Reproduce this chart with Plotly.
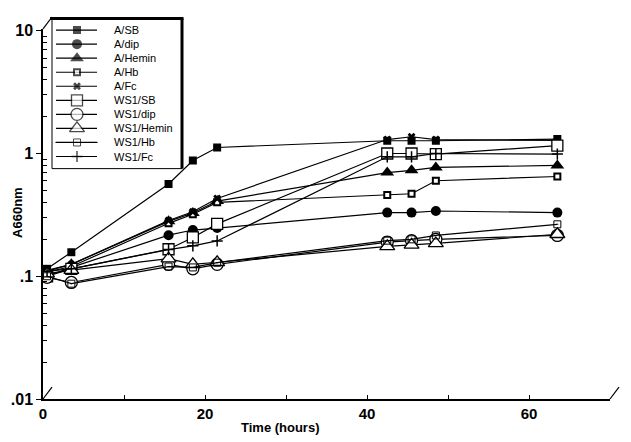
import plotly.graph_objects as go

# ---------------- data ----------------
hours = [0.5, 3.5, 15.5, 18.5, 21.5, 42.5, 45.5, 48.5, 63.5]
series_names = ["A/SB", "A/dip", "A/Hemin", "A/Hb", "A/Fc",
                "WS1/SB", "WS1/dip", "WS1/Hemin", "WS1/Hb", "WS1/Fc"]
a_sb      = [0.115, 0.157, 0.565, 0.877, 1.12, 1.27, 1.27, 1.27, 1.31]
a_dip     = [0.100, 0.118, 0.216, 0.238, 0.247, 0.33, 0.33, 0.34, 0.33]
a_hemin   = [0.110, 0.125, 0.280, 0.328, 0.410, 0.70, 0.73, 0.77, 0.80]
a_hb      = [0.108, 0.120, 0.270, 0.320, 0.400, 0.46, 0.47, 0.60, 0.65]
a_fc      = [0.112, 0.125, 0.285, 0.335, 0.430, 1.30, 1.37, 1.30, 1.28]
ws1_sb    = [0.100, 0.115, 0.166, 0.207, 0.267, 1.00, 1.00, 0.99, 1.16]
ws1_dip   = [0.098, 0.089, 0.125, 0.115, 0.125, 0.19, 0.195, 0.20, 0.215]
ws1_hemin = [0.105, 0.112, 0.139, 0.125, 0.130, 0.175, 0.18, 0.185, 0.22]
ws1_hb    = [0.100, 0.087, 0.120, 0.118, 0.129, 0.195, 0.20, 0.215, 0.265]
ws1_fc    = [0.110, 0.115, 0.165, 0.177, 0.194, 0.94, 0.94, 1.00, 0.99]
values = [a_sb, a_dip, a_hemin, a_hb, a_fc, ws1_sb, ws1_dip, ws1_hemin, ws1_hb, ws1_fc]

x_tickvals = [0, 10, 20, 30, 40, 50, 60, 70]
x_ticktext = ["0", "", "20", "", "40", "", "60", ""]
y_tickvals = [0.01, 0.1, 1, 10]
y_ticktext = [".01", ".1", "1", "10"]
y_minor = [m * 10 ** e for e in (-2, -1, 0) for m in range(2, 10)]

# ---------------- styles ----------------
styles = [
    dict(symbol="square", size=8, color="black", line=dict(color="black", width=0)),
    dict(symbol="circle", size=10, color="black", line=dict(color="black", width=0)),
    dict(symbol="triangle-up", size=12, color="black", line=dict(color="black", width=0)),
    dict(symbol="square", size=6, color="white", line=dict(color="black", width=2)),
    dict(symbol="x", size=7, color="black", line=dict(color="black", width=0)),
    dict(symbol="square", size=11, color="white", line=dict(color="black", width=1.3)),
    dict(symbol="circle", size=12, color="white", line=dict(color="black", width=1.3)),
    dict(symbol="triangle-up", size=13, color="white", line=dict(color="black", width=1.3)),
    dict(symbol="square-open-dot", size=7, color="black", line=dict(color="black", width=1)),
    dict(symbol="cross-thin-open", size=8, color="black", line=dict(color="black", width=1.5)),
]

FONT = "Liberation Sans, Arial, Helvetica, sans-serif"

W, H = 631, 442
ML, MR, MT, MB = 43, 12, 11, 43
PW, PH = W - ML - MR, H - MT - MB  # 576 x 388
DX, DY = 9, 12  # depth offset of the back wall

def px_x(p):
    return (p - ML) / PW

def px_y(p):
    return (H - MB - p) / PH

fig = go.Figure()

# data traces (front axes)
for name, vals, st in zip(series_names, values, styles):
    fig.add_trace(go.Scatter(
        x=hours, y=vals, name=name, mode="lines+markers",
        line=dict(color="black", width=1.2),
        marker=st, showlegend=False, xaxis="x", yaxis="y"))

# custom legend samples (legend axes x3/y3)
for i, (name, st) in enumerate(zip(series_names, styles)):
    sz = st["size"]
    fig.add_trace(go.Scatter(
        x=[4, 25, 45], y=[i, i, i], mode="lines+markers",
        line=dict(color="black", width=1.2),
        marker=dict(symbol=st["symbol"], size=[0, sz, 0], color=st["color"], line=st["line"]),
        showlegend=False, xaxis="x3", yaxis="y3", hoverinfo="skip"))

fig.update_layout(
    width=W, height=H, autosize=False,
    margin=dict(l=ML, r=MR, t=MT, b=MB, pad=0),
    paper_bgcolor="white", plot_bgcolor="rgba(0,0,0,0)",
    font=dict(family=FONT, color="black"),
    showlegend=False,
    xaxis=dict(domain=[0, (PW - DX) / PW], range=[0, 70], anchor="y",
               showline=True, linecolor="black", linewidth=1.5,
               ticks="inside", ticklen=4, tickwidth=1, tickcolor="black",
               tickvals=x_tickvals, ticktext=x_ticktext,
               tickfont=dict(family=FONT, size=15, weight="bold"),
               showgrid=False, zeroline=False),
    yaxis=dict(type="log", domain=[0, (PH - DY) / PH], range=[-2, 1.016], anchor="x",
               showline=True, linecolor="black", linewidth=1.5,
               ticks="outside", ticklen=5, tickwidth=1, tickcolor="black",
               tickvals=y_tickvals, ticktext=y_ticktext,
               tickfont=dict(family=FONT, size=16, weight="bold"),
               minor=dict(tickvals=y_minor, ticks="inside", ticklen=4, tickcolor="black", showgrid=False),
               showgrid=False, zeroline=False),
    xaxis2=dict(domain=[DX / PW, 1], range=[0, 70], anchor="y2", side="top",
                showline=True, mirror=True, linecolor="black", linewidth=1.2,
                ticks="inside", ticklen=4, tickcolor="black",
                tickvals=[20, 30, 40, 50, 60, 70], showticklabels=False,
                showgrid=False, zeroline=False),
    yaxis2=dict(type="log", domain=[DY / PH, 1], range=[-2, 1.016], anchor="x2", side="right",
                showline=True, mirror=True, linecolor="black", linewidth=1.2,
                ticks="inside", ticklen=5, tickcolor="black",
                tickvals=y_tickvals, showticklabels=False,
                minor=dict(tickvals=y_minor, ticks="inside", ticklen=3, tickcolor="black", showgrid=False),
                showgrid=False, zeroline=False),
    xaxis3=dict(domain=[px_x(52), px_x(182)], range=[0, 130], anchor="y3", visible=False, fixedrange=True),
    yaxis3=dict(domain=[px_y(165), px_y(12)], range=[9.862, -0.862], anchor="x3", visible=False, fixedrange=True),
)

# 3-D box: diagonals between front axes and back wall
fx1 = (PW - DX) / PW
fy1 = (PH - DY) / PH
shapes = [
    dict(type="line", xref="paper", yref="paper", x0=0, y0=fy1, x1=DX / PW, y1=1,
         line=dict(color="black", width=1.2)),
    dict(type="line", xref="paper", yref="paper", x0=0, y0=0, x1=DX / PW, y1=DY / PH,
         line=dict(color="black", width=1.2)),
    dict(type="line", xref="paper", yref="paper", x0=fx1, y0=0, x1=1, y1=DY / PH,
         line=dict(color="black", width=1.2)),
    # legend box
    dict(type="rect", xref="paper", yref="paper", x0=px_x(52), x1=px_x(182), y0=px_y(165), y1=px_y(12.5),
         fillcolor="white", line=dict(color="black", width=1), layer="below"),
    dict(type="line", xref="paper", yref="paper", x0=px_x(50), x1=px_x(183.5), y0=px_y(12.5), y1=px_y(12.5),
         line=dict(color="black", width=3)),
    dict(type="line", xref="paper", yref="paper", x0=px_x(182), x1=px_x(182), y0=px_y(165), y1=px_y(12.5),
         line=dict(color="black", width=3)),
]
fig.update_layout(shapes=shapes)

annotations = []
for i, name in enumerate(series_names):
    annotations.append(dict(x=60, y=i, xref="x3", yref="y3", text=name, showarrow=False,
                            xanchor="left", yanchor="middle", align="left",
                            font=dict(family=FONT, size=11, color="black")))
annotations.append(dict(x=px_x(18), y=px_y(210), xref="paper", yref="paper", text="A660nm",
                        textangle=-90, showarrow=False, xanchor="center", yanchor="middle",
                        font=dict(family=FONT, size=13, weight="bold")))
annotations.append(dict(x=px_x(280), y=px_y(428), xref="paper", yref="paper", text="Time (hours)",
                        showarrow=False, xanchor="center", yanchor="middle",
                        font=dict(family=FONT, size=13, weight="bold")))
fig.update_layout(annotations=annotations)

fig.write_html("out.html", config={"displayModeBar": False},
               post_script="document.body.style.margin='0';document.body.style.padding='0';")
